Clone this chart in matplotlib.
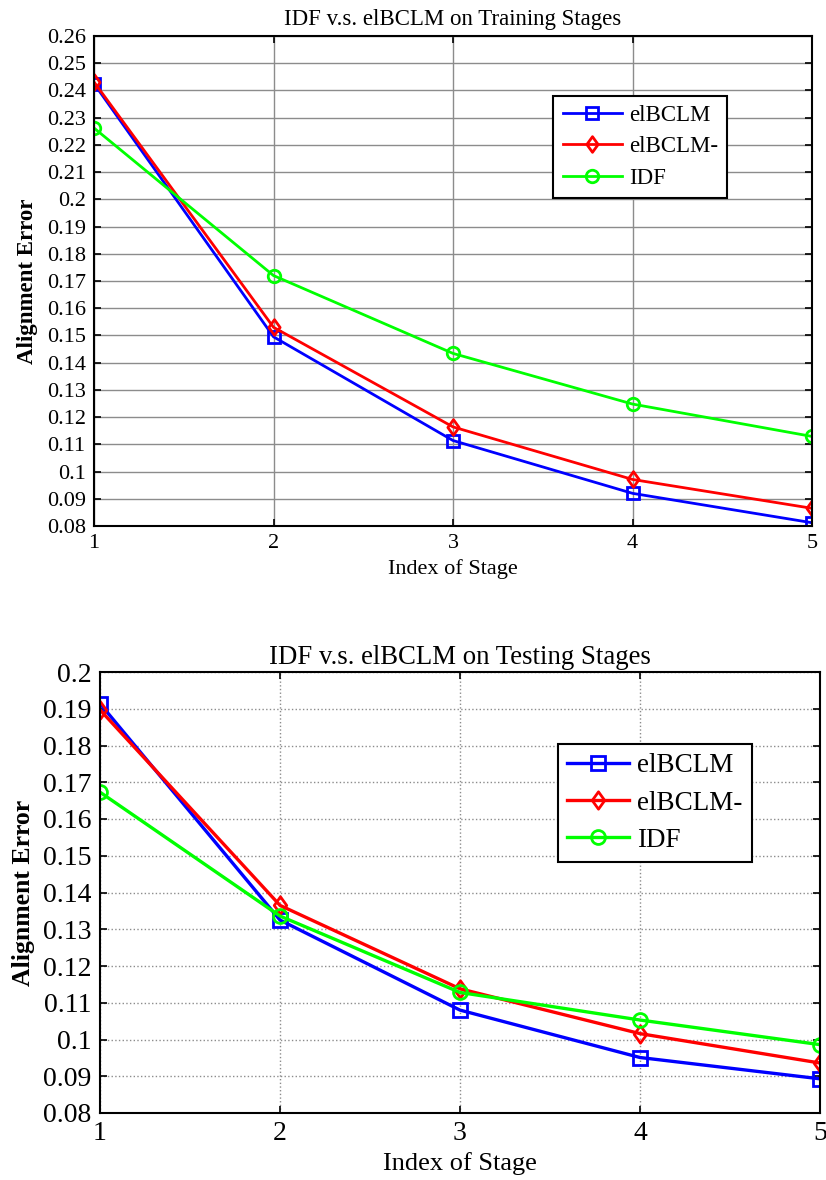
import matplotlib
matplotlib.use("Agg")
import matplotlib.pyplot as plt
from matplotlib.ticker import MultipleLocator, FuncFormatter
from matplotlib.path import Path

plt.rcParams['font.family'] = ['Liberation Serif', 'DejaVu Serif']

stages = [1, 2, 3, 4, 5]
series_names = ["elBCLM", "elBCLM-", "IDF"]

train_elbclm = [0.2425, 0.1495, 0.1114, 0.0920, 0.0812]
train_elbclm_minus = [0.2431, 0.1530, 0.1164, 0.0971, 0.0865]
train_idf = [0.2262, 0.1720, 0.1434, 0.1248, 0.1129]

test_elbclm = [0.1914, 0.1325, 0.1080, 0.0951, 0.0893]
test_elbclm_minus = [0.1897, 0.1365, 0.1138, 0.1016, 0.0936]
test_idf = [0.1673, 0.1336, 0.1128, 0.1053, 0.0986]

titles = ["IDF v.s. elBCLM on Training Stages", "IDF v.s. elBCLM on Testing Stages"]
xlabel = "Index of Stage"
ylabel = "Alignment Error"

colors = ["#0000ff", "#ff0000", "#00ff00"]
diamond = Path([(0, 1), (0.72, 0), (0, -1), (-0.72, 0), (0, 1)],
               [Path.MOVETO, Path.LINETO, Path.LINETO, Path.LINETO, Path.CLOSEPOLY])
markers = ["s", diamond, "o"]

fig = plt.figure(figsize=(8.26, 11.8), dpi=100)
ax1 = fig.add_axes([94/826, 1-526/1180, 718/826, 490/1180])
ax2 = fig.add_axes([100/826, 1-1113/1180, 720/826, 441/1180])

fmt = FuncFormatter(lambda v, p: ('%g' % round(v, 4)))

def draw(ax, data, title, ylim, fs_tick, fs_lab, fs_title, fs_leg, lw, ms, grid_ls,
         leg_anchor, ylab_size, title_pad, borderpad, handlelength):
    for vals, name, c, m in zip(data, series_names, colors, markers):
        msz = ms * (1.25 if m is diamond else 1.0)
        ax.plot(stages, vals, color=c, marker=m, markersize=msz, markerfacecolor='none',
                markeredgecolor=c, markeredgewidth=2, linewidth=lw, label=name)
    ax.set_xlim(1, 5)
    ax.set_ylim(*ylim)
    ax.xaxis.set_major_locator(MultipleLocator(1))
    ax.yaxis.set_major_locator(MultipleLocator(0.01))
    ax.yaxis.set_major_formatter(fmt)
    ax.tick_params(direction='in', length=5, width=1.2, top=True, right=True,
                   labelsize=fs_tick, pad=6)
    ax.grid(True, color='0.55', linestyle=grid_ls, linewidth=1.0)
    for s in ax.spines.values():
        s.set_linewidth(1.5)
    ax.set_title(title, fontsize=fs_title, pad=title_pad)
    ax.set_xlabel(xlabel, fontsize=fs_lab, labelpad=4)
    ax.set_ylabel(ylabel, fontsize=ylab_size, fontweight='bold', labelpad=6)
    leg = ax.legend(loc='upper right', bbox_to_anchor=leg_anchor, fontsize=fs_leg,
                    fancybox=False, edgecolor='black', framealpha=1,
                    handlelength=handlelength, borderpad=borderpad, labelspacing=0.45,
                    handletextpad=0.3, borderaxespad=0)
    leg.get_frame().set_linewidth(1.5)

draw(ax1, [train_elbclm, train_elbclm_minus, train_idf], titles[0], (0.08, 0.26),
     fs_tick=16, fs_lab=16, fs_title=16.5, fs_leg=16.5, lw=2.0, ms=9, grid_ls='-',
     leg_anchor=(0.882, 0.878), ylab_size=16.5, title_pad=8, borderpad=0.4,
     handlelength=2.6)
draw(ax2, [test_elbclm, test_elbclm_minus, test_idf], titles[1], (0.08, 0.2),
     fs_tick=20, fs_lab=19, fs_title=19.3, fs_leg=19.5, lw=2.4, ms=10, grid_ls=':',
     leg_anchor=(0.906, 0.837), ylab_size=18.5, title_pad=6, borderpad=0.35,
     handlelength=2.3)

fig.savefig("out.png", dpi=100)
